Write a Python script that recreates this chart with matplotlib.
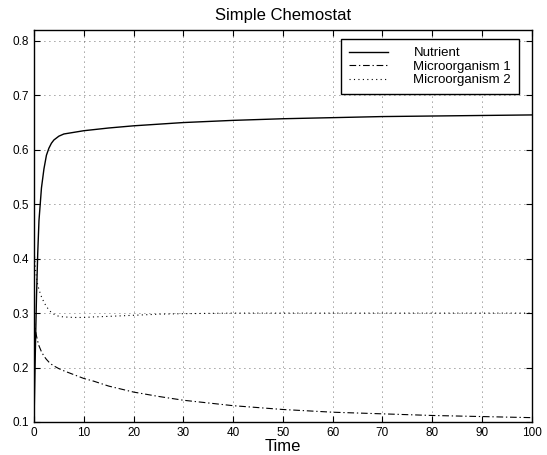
import matplotlib
matplotlib.use("Agg")
import matplotlib.pyplot as plt

plt.rcParams['font.family'] = ['Liberation Sans', 'DejaVu Sans']

time = [0, 0.25, 0.5, 0.75, 1, 1.5, 2, 2.5, 3, 3.5, 4, 5, 6, 8, 10, 12, 15, 20,
        25, 30, 40, 50, 60, 70, 80, 90, 100]
nutrient = [0.10, 0.22, 0.33, 0.41, 0.47, 0.53, 0.565, 0.59, 0.603, 0.612, 0.618,
            0.625, 0.629, 0.632, 0.635, 0.637, 0.640, 0.644, 0.647, 0.650, 0.654,
            0.657, 0.659, 0.661, 0.662, 0.663, 0.664]
micro1 = [0.29, 0.27, 0.258, 0.248, 0.240, 0.229, 0.221, 0.215, 0.210, 0.206, 0.203,
          0.198, 0.194, 0.187, 0.180, 0.175, 0.166, 0.155, 0.147, 0.140, 0.130,
          0.123, 0.118, 0.115, 0.112, 0.110, 0.108]
micro2 = [0.42, 0.385, 0.365, 0.352, 0.343, 0.330, 0.320, 0.312, 0.306, 0.301, 0.298,
          0.294, 0.293, 0.292, 0.292, 0.293, 0.294, 0.296, 0.298, 0.299, 0.300,
          0.300, 0.300, 0.300, 0.300, 0.300, 0.300]
labels = ['Nutrient', 'Microorganism 1', 'Microorganism 2']

fig = plt.figure(figsize=(5.47, 4.55), dpi=100)
ax = fig.add_axes([34/547, 33/455, (531.5-34)/547, (422-30)/455])

ax.plot(time, nutrient, '-', color='black', lw=1.0, label=labels[0])
ax.plot(time, micro1, linestyle=(0, (6, 2.5, 1.2, 2.5)), color='black', lw=0.8,
        label=labels[1])
ax.plot(time, micro2, linestyle=(0, (1, 3)), color='black', lw=0.8, label=labels[2])

ax.set_xlim(0, 100)
ax.set_ylim(0.1, 0.82)
ax.set_xticks(range(0, 101, 10))
ax.set_yticks([0.1, 0.2, 0.3, 0.4, 0.5, 0.6, 0.7, 0.8])
ax.set_yticklabels(['0.1', '0.2', '0.3', '0.4', '0.5', '0.6', '0.7', '0.8'])
ax.tick_params(direction='in', top=True, right=True, labelsize=8.5, length=4, width=0.8)
ax.grid(True, linestyle=(0, (1, 5)), color='black', lw=0.6, alpha=0.75)
for s in ax.spines.values():
    s.set_linewidth(1.0)

ax.set_title('Simple Chemostat', fontsize=12, pad=7)
ax.set_xlabel('Time', fontsize=12, labelpad=0)

leg = ax.legend(loc='upper right', bbox_to_anchor=(0.975, 0.977), borderaxespad=0,
                fontsize=9.5, frameon=True, fancybox=False, edgecolor='black',
                framealpha=1, handlelength=3.0, handletextpad=1.9, borderpad=0.6,
                labelspacing=0.1)
leg.get_frame().set_linewidth(1.0)

fig.savefig('out.png', dpi=100)
